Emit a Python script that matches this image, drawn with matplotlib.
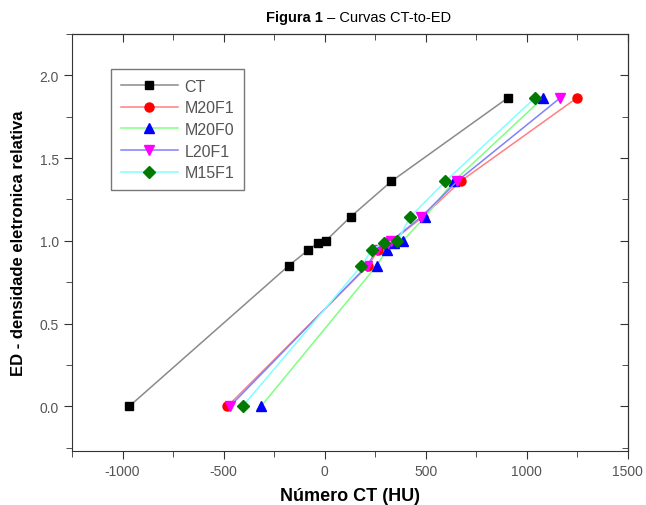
import matplotlib.pyplot as plt
from matplotlib.ticker import MultipleLocator
import numpy as np

plt.rcParams['font.family'] = ['Liberation Sans', 'DejaVu Sans']
plt.rcParams['axes.unicode_minus'] = False

ed = [0.0, 0.85, 0.945, 0.99, 1.0, 1.145, 1.36, 1.865]
ct = [-967, -178, -81, -31, 5, 128, 330, 907]
m20f1 = [-481, 215, 265, 320, 335, 485, 672, 1249]
m20f0 = [-315, 257, 307, 345, 386, 497, 638, 1081]
l20f1 = [-469, 210, 258, 315, 330, 478, 655, 1166]
m15f1 = [-406, 182, 232, 295, 360, 423, 597, 1041]

names = ['CT', 'M20F1', 'M20F0', 'L20F1', 'M15F1']
series = [ct, m20f1, m20f0, l20f1, m15f1]
linecol = ['#8a8a8a', '#ff8080', '#80ff80', '#8080ff', '#80ffff']
markcol = ['#000000', '#ff0000', '#0000ff', '#ff00ff', '#007a00']
marks = ['s', 'o', '^', 'v', 'D']
msize = [6, 6.5, 6.5, 6.5, 6]

fig = plt.figure(figsize=(6.46, 5.06), dpi=100)
ax = fig.add_axes([0.1115, 0.1067, 0.8605, 0.8241])

for i in range(len(series)):
    ax.plot(series[i], ed, color=linecol[i], lw=1.1, marker=marks[i],
            ms=msize[i], mfc=markcol[i], mec=markcol[i], label=names[i])

ax.set_xlim(-1250, 1500)
ax.set_ylim(-0.27, 2.25)
ax.xaxis.set_major_locator(MultipleLocator(500))
ax.xaxis.set_minor_locator(MultipleLocator(250))
ax.yaxis.set_major_locator(MultipleLocator(0.5))
ax.yaxis.set_minor_locator(MultipleLocator(0.25))
ax.tick_params(which='both', direction='out', labelcolor='#555555',
               color='#333333', labelsize=10)
ax.tick_params(which='major', length=6)
ax.tick_params(which='minor', length=4)
for s in ax.spines.values():
    s.set_color('#333333')

# mirrored inward ticks on top and right
axt = ax.secondary_xaxis('top')
axt.xaxis.set_major_locator(MultipleLocator(500))
axt.xaxis.set_minor_locator(MultipleLocator(250))
axt.tick_params(which='both', direction='in', labeltop=False, color='#333333')
axt.tick_params(which='major', length=6)
axt.tick_params(which='minor', length=4)
axr = ax.secondary_yaxis('right')
axr.yaxis.set_major_locator(MultipleLocator(0.5))
axr.yaxis.set_minor_locator(MultipleLocator(0.25))
axr.tick_params(which='both', direction='in', labelright=False, color='#333333')
axr.tick_params(which='major', length=6)
axr.tick_params(which='minor', length=4)

ax.set_xlabel('Número CT (HU)', fontsize=13, fontweight='bold', labelpad=6)
ax.set_ylabel('ED - densidade eletronica relativa', fontsize=12,
              fontweight='bold', labelpad=10)

leg = ax.legend(loc='upper left', bbox_to_anchor=(0.070, 0.916), fontsize=11.5,
                frameon=True, fancybox=False, edgecolor='#555555',
                handlelength=3.6, labelspacing=0.42, borderpad=0.6,
                borderaxespad=0, handletextpad=0.4)
leg.get_frame().set_linewidth(1.0)
for t in leg.get_texts():
    t.set_color('#555555')

fig.text(0.5, 0.965, 'Figura 1', ha='right', va='center', fontsize=10.5,
         fontweight='bold')
fig.text(0.5, 0.965, ' – Curvas CT-to-ED', ha='left', va='center', fontsize=10.5)

fig.savefig('out.png', dpi=100)
